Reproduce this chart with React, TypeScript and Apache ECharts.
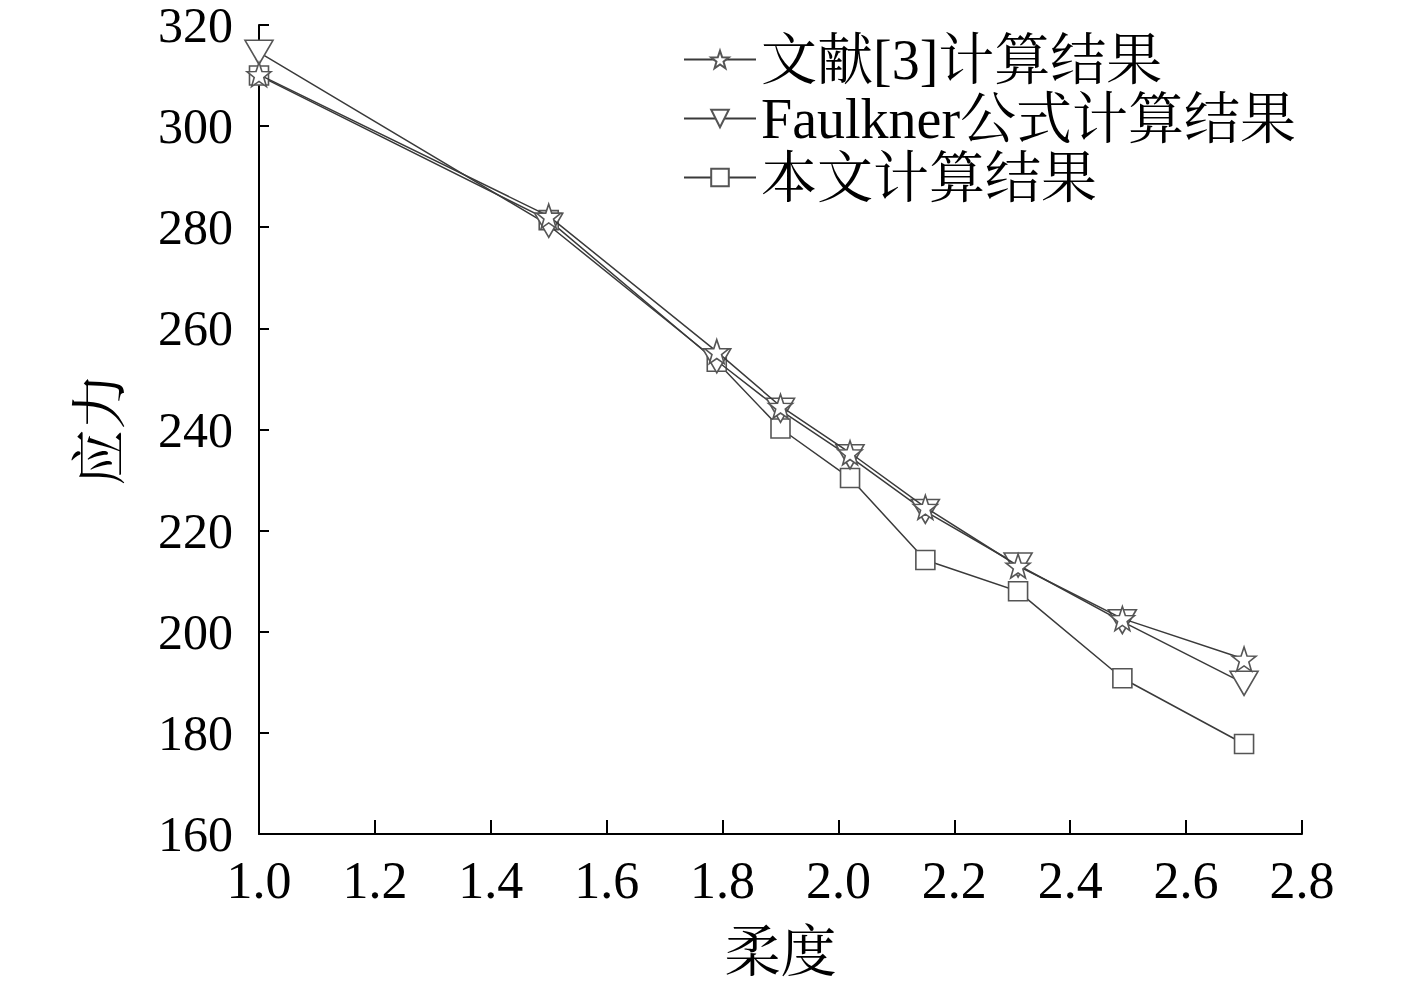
import React, { useEffect, useRef } from "react";
import * as echarts from "echarts";

const slenderness = [1.0, 1.5, 1.79, 1.9, 2.02, 2.15, 2.31, 2.49, 2.7];
const refValues = [310.2, 282.2, 255.4, 244.6, 235.4, 224.6, 213.0, 202.6, 194.6];
const faulknerValues = [314.6, 280.4, 253.6, 243.8, 234.6, 223.8, 213.2, 202.0, 189.8];
const thisValues = [310.0, 281.4, 253.4, 240.2, 230.4, 214.2, 208.0, 190.8, 177.8];
const seriesNames = ["文献[3]计算结果", "Faulkner公式计算结果", "本文计算结果"];
const xAxisName = "柔度";
const yAxisName = "应力";

const STAR =
  "path://M0,-10 L2.35,-3.24 L9.51,-3.09 L3.8,1.24 L5.88,8.09 L0,4.2 L-5.88,8.09 L-3.8,1.24 L-9.51,-3.09 L-2.35,-3.24 Z";

const FONT = '"Liberation Serif", "Noto Serif CJK SC", "Noto Sans CJK SC", serif';

function pairs(xs: number[], ys: number[]) {
  return xs.map((x, i) => [x, ys[i]]);
}

export default function App() {
  const ref = useRef<HTMLDivElement>(null);
  useEffect(() => {
    if (!ref.current) return;
    const chart = echarts.init(ref.current, undefined, { renderer: "svg" });
    const lineStyle = { color: "#3a3a3a", width: 1.5 };
    const itemStyle = { color: "#ffffff", borderColor: "#555555", borderWidth: 1.6 };
    chart.setOption({
      animation: false,
      backgroundColor: "#ffffff",
      grid: { left: 259, right: 115, top: 20, bottom: 147 },
      legend: {
        orient: "vertical",
        left: 678,
        top: 26,
        itemWidth: 72,
        itemHeight: 22,
        itemGap: 2,
        textStyle: { fontFamily: FONT, fontSize: 56, color: "#000", lineHeight: 57 },
        data: seriesNames,
      },
      xAxis: {
        type: "value",
        min: 1.0,
        max: 2.8,
        interval: 0.2,
        name: xAxisName,
        nameLocation: "middle",
        nameGap: 90,
        nameTextStyle: { fontFamily: FONT, fontSize: 56, color: "#000" },
        axisLine: { show: true, lineStyle: { color: "#000", width: 2 } },
        axisTick: { show: true, inside: true, length: 14, lineStyle: { color: "#000", width: 2 } },
        axisLabel: {
          fontFamily: FONT,
          fontSize: 52,
          color: "#000",
          margin: 20,
          formatter: (v: number) => v.toFixed(1),
        },
        splitLine: { show: false },
      },
      yAxis: {
        type: "value",
        min: 160,
        max: 320,
        interval: 20,
        name: yAxisName,
        nameLocation: "middle",
        nameRotate: 90,
        nameGap: 159,
        nameTextStyle: { fontFamily: FONT, fontSize: 56, color: "#000", verticalAlign: "middle" },
        axisLine: { show: true, lineStyle: { color: "#000", width: 2 } },
        axisTick: { show: true, inside: true, length: 10, lineStyle: { color: "#000", width: 2 } },
        axisLabel: { fontFamily: FONT, fontSize: 50, lineHeight: 40, color: "#000", margin: 26 },
        splitLine: { show: false },
      },
      series: [
        {
          name: seriesNames[0],
          type: "line",
          data: pairs(slenderness, refValues),
          symbol: STAR,
          symbolSize: 24,
          showAllSymbol: true,
          lineStyle,
          itemStyle,
          z: 3,
        },
        {
          name: seriesNames[1],
          type: "line",
          data: pairs(slenderness, faulknerValues),
          symbol: "triangle",
          symbolRotate: 180,
          symbolSize: [28, 24],
          showAllSymbol: true,
          lineStyle,
          itemStyle,
          z: 2,
        },
        {
          name: seriesNames[2],
          type: "line",
          data: pairs(slenderness, thisValues),
          symbol: "rect",
          symbolSize: 19,
          showAllSymbol: true,
          lineStyle,
          itemStyle,
          z: 1,
        },
      ],
    });
    return () => chart.dispose();
  }, []);
  return (
    <div
      ref={ref}
      style={{ position: "absolute", left: 0, top: 0, width: 1417, height: 985, background: "#fff" }}
    />
  );
}
